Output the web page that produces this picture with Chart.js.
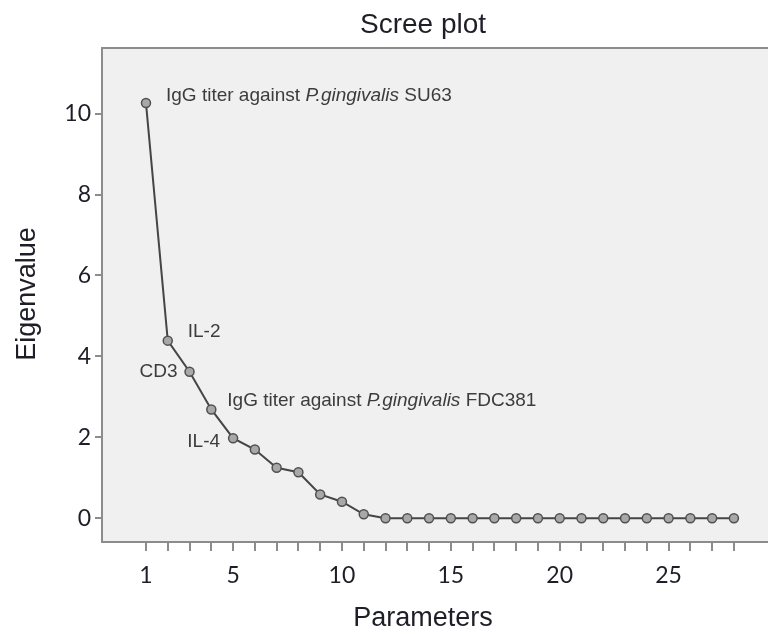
<!DOCTYPE html>
<html>
<head>
<meta charset="utf-8">
<script src="https://cdn.jsdelivr.net/npm/chart.js@4.4.1/dist/chart.umd.min.js"></script>
<style>
  html, body { margin: 0; padding: 0; background: #ffffff; }
  #wrap { width: 768px; height: 634px; position: relative; }
</style>
</head>
<body>
<div id="wrap"><canvas id="c" width="768" height="634"></canvas></div>
<script>
// ---- data ----
const parameters = [1,2,3,4,5,6,7,8,9,10,11,12,13,14,15,16,17,18,19,20,21,22,23,24,25,26,27,28];
const eigenvalues = [10.26,4.39,3.62,2.69,1.98,1.70,1.25,1.14,0.59,0.41,0.10,0,0,0,0,0,0,0,0,0,0,0,0,0,0,0,0,0];
const xTickMarks = [1,2,3,4,5,6,7,8,9,10,11,12,13,14,15,16,17,18,19,20,21,22,23,24,25,26,27,28];
const xTickLabelValues = [1,5,10,15,20,25];
const yTickValues = [0,2,4,6,8,10];
const titleText = 'Scree plot';
const xTitle = 'Parameters';
const yTitle = 'Eigenvalue';
// annotated points: index into parameters, text parts [text, italic]
const labelIndex = [0, 1, 2, 3, 4];
const labelParts = [
  [['IgG titer against ', false], ['P.gingivalis', true], [' SU63', false]],
  [['IL-2', false]],
  [['CD3', false]],
  [['IgG titer against ', false], ['P.gingivalis', true], [' FDC381', false]],
  [['IL-4', false]]
];

// ---- styles ----
const labelStyle = [
  {dx: 20, dy: -7, align: 'left'},
  {dx: 20, dy: -9, align: 'left'},
  {dx: -12, dy: 0, align: 'right'},
  {dx: 16, dy: -9, align: 'left'},
  {dx: -13, dy: 4, align: 'right'}
];
const axisColor = '#8c8c8c';
const textColor = '#1e1e28';
const annFont = 19;

const points = parameters.map((p, i) => ({x: p, y: eigenvalues[i]}));

const decor = {
  id: 'decor',
  beforeDraw(chart) {
    const {ctx, chartArea: a} = chart;
    ctx.save();
    ctx.fillStyle = '#f0f0f0';
    ctx.fillRect(a.left, a.top, chart.width - a.left, a.bottom - a.top);
    ctx.restore();
  },
  afterDatasetsDraw(chart) {
    const {ctx} = chart;
    const xs = chart.scales.x, ys = chart.scales.y;
    ctx.save();
    ctx.fillStyle = '#3c3c3c';
    ctx.textBaseline = 'middle';
    labelIndex.forEach((idx, k) => {
      const px = xs.getPixelForValue(parameters[idx]);
      const py = ys.getPixelForValue(eigenvalues[idx]);
      const st = labelStyle[k];
      const parts = labelParts[k];
      const fontOf = it => (it ? 'italic ' : '') + annFont + 'px "Liberation Sans", Arial, sans-serif';
      let total = 0;
      parts.forEach(([t, it]) => { ctx.font = fontOf(it); total += ctx.measureText(t).width; });
      let x = st.align === 'left' ? px + st.dx : px + st.dx - total;
      const y = py + st.dy;
      ctx.textAlign = 'left';
      parts.forEach(([t, it]) => {
        ctx.font = fontOf(it);
        ctx.fillText(t, x, y);
        x += ctx.measureText(t).width;
      });
    });
    ctx.restore();
  },
  afterDraw(chart) {
    const {ctx, chartArea: a} = chart;
    ctx.save();
    ctx.strokeStyle = axisColor;
    ctx.lineWidth = 2;
    ctx.beginPath();
    ctx.moveTo(a.left, a.top);
    ctx.lineTo(chart.width, a.top);
    ctx.moveTo(a.right, a.bottom);
    ctx.lineTo(chart.width, a.bottom);
    ctx.stroke();
    ctx.fillStyle = textColor;
    ctx.textAlign = 'center';
    ctx.textBaseline = 'middle';
    ctx.font = '28px "Liberation Sans", Arial, sans-serif';
    ctx.fillText(titleText, 423, 25);
    ctx.font = '27px "Liberation Sans", Arial, sans-serif';
    ctx.fillText(xTitle, 423, 619);
    ctx.translate(28, 294);
    ctx.rotate(-Math.PI / 2);
    ctx.fillText(yTitle, 0, 0);
    ctx.restore();
  }
};

new Chart(document.getElementById('c'), {
  type: 'line',
  data: {
    datasets: [{
      data: points,
      borderColor: '#454545',
      borderWidth: 2,
      pointRadius: 4.5,
      pointBorderWidth: 1.5,
      pointBackgroundColor: '#a8a8a8',
      pointBorderColor: '#505050',
      tension: 0
    }]
  },
  options: {
    responsive: false,
    animation: false,
    layout: { padding: { top: 48, right: 0, left: 0, bottom: 0 } },
    plugins: { legend: { display: false }, title: { display: false }, tooltip: { enabled: false } },
    scales: {
      x: {
        type: 'linear',
        min: -1.02,
        max: 29.29,
        afterFit(s) { s.height = 92; s.paddingRight = 0; s.paddingLeft = 0; },
        afterBuildTicks(s) { s.ticks = xTickMarks.map(v => ({value: v})); },
        border: { display: true, color: axisColor, width: 2 },
        grid: { drawOnChartArea: false, drawTicks: true, tickLength: 9, color: axisColor, lineWidth: 2 },
        ticks: {
          autoSkip: false, maxRotation: 0, padding: 11,
          color: textColor,
          font: { family: 'Lato, "Liberation Sans", sans-serif', size: 23 },
          callback: v => xTickLabelValues.includes(v) ? String(v) : ''
        }
      },
      y: {
        type: 'linear',
        min: -0.585,
        max: 11.62,
        afterFit(s) { s.width = 102; s.paddingTop = 0; s.paddingBottom = 0; },
        afterBuildTicks(s) { s.ticks = yTickValues.map(v => ({value: v})); },
        border: { display: true, color: axisColor, width: 2 },
        grid: { drawOnChartArea: false, drawTicks: true, tickLength: 7, color: axisColor, lineWidth: 2 },
        ticks: {
          padding: 4,
          color: textColor,
          font: { family: 'Lato, "Liberation Sans", sans-serif', size: 23 },
          callback: v => String(v)
        }
      }
    }
  },
  plugins: [decor]
});
</script>
</body>
</html>
